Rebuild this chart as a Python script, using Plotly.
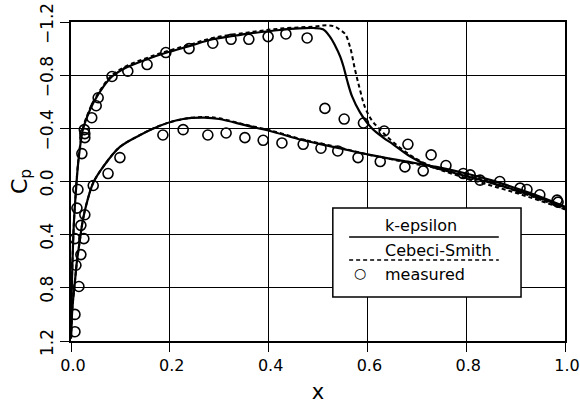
import plotly.graph_objects as go

# Surface pressure coefficient along the chord
ke_upper_x = [0.0, 0.001, 0.003, 0.006, 0.009, 0.014, 0.019, 0.024, 0.032, 0.045,
              0.065, 0.083, 0.113, 0.154, 0.194, 0.241, 0.287, 0.356, 0.423, 0.49,
              0.51, 0.524, 0.535, 0.545, 0.552, 0.559, 0.569, 0.585, 0.609, 0.632,
              0.652, 0.686, 0.72, 0.75, 0.80, 0.85, 0.90, 0.95, 1.0]
ke_upper_cp = [1.18, 0.9, 0.6, 0.3, 0.12, -0.12, -0.28, -0.39, -0.48, -0.59,
               -0.71, -0.79, -0.86, -0.92, -0.97, -1.02, -1.07, -1.11, -1.14, -1.155,
               -1.145, -1.09, -1.02, -0.94, -0.86, -0.76, -0.64, -0.52, -0.40, -0.33,
               -0.28, -0.19, -0.125, -0.09, -0.04, 0.01, 0.065, 0.125, 0.195]

ke_lower_x = [0.0, 0.002, 0.004, 0.008, 0.012, 0.018, 0.024, 0.032, 0.045, 0.065,
              0.099, 0.14, 0.18, 0.227, 0.27, 0.30, 0.356, 0.403, 0.47, 0.538,
              0.605, 0.672, 0.74, 0.80, 0.85, 0.90, 0.95, 1.0]
ke_lower_cp = [1.18, 1.0, 0.9, 0.75, 0.60, 0.44, 0.29, 0.16, 0.01, -0.11,
               -0.26, -0.35, -0.42, -0.47, -0.48, -0.47, -0.42, -0.38, -0.31, -0.255,
               -0.20, -0.155, -0.11, -0.06, -0.01, 0.05, 0.115, 0.19]

cs_upper_x = [0.0, 0.001, 0.003, 0.006, 0.009, 0.014, 0.019, 0.024, 0.032, 0.045,
              0.065, 0.083, 0.113, 0.154, 0.194, 0.241, 0.287, 0.356, 0.423, 0.49,
              0.52, 0.534, 0.545, 0.555, 0.565, 0.575, 0.585, 0.595, 0.609, 0.626,
              0.645, 0.686, 0.72, 0.75, 0.80, 0.85, 0.90, 0.95, 1.0]
cs_upper_cp = [1.18, 0.9, 0.6, 0.3, 0.12, -0.13, -0.29, -0.40, -0.49, -0.60,
               -0.72, -0.80, -0.87, -0.93, -0.98, -1.03, -1.08, -1.12, -1.15, -1.165,
               -1.175, -1.165, -1.14, -1.11, -1.01, -0.84, -0.69, -0.56, -0.46, -0.39,
               -0.32, -0.20, -0.13, -0.085, -0.025, 0.03, 0.085, 0.145, 0.21]

cs_lower_x = [0.0, 0.002, 0.004, 0.008, 0.012, 0.018, 0.024, 0.032, 0.045, 0.065,
              0.099, 0.14, 0.18, 0.227, 0.27, 0.30, 0.356, 0.403, 0.47, 0.538,
              0.605, 0.672, 0.74, 0.80, 0.85, 0.90, 0.95, 1.0]
cs_lower_cp = [1.18, 1.0, 0.9, 0.75, 0.60, 0.44, 0.29, 0.16, 0.01, -0.11,
               -0.26, -0.35, -0.42, -0.47, -0.485, -0.475, -0.425, -0.385, -0.315, -0.26,
               -0.20, -0.15, -0.10, -0.045, 0.005, 0.07, 0.135, 0.21]

meas_upper_x = [0.008, 0.008, 0.016, 0.010, 0.008, 0.012, 0.014, 0.022, 0.028, 0.028,
                0.027, 0.042, 0.051, 0.055, 0.083, 0.115, 0.154, 0.192, 0.239, 0.287,
                0.324, 0.360, 0.399, 0.435, 0.478, 0.514, 0.553, 0.592, 0.634, 0.682,
                0.729, 0.759, 0.808, 0.868, 0.923, 0.986]
meas_upper_cp = [1.13, 1.00, 0.79, 0.63, 0.43, 0.20, 0.06, -0.21, -0.33, -0.36,
                 -0.39, -0.48, -0.57, -0.63, -0.79, -0.83, -0.88, -0.97, -1.00, -1.04,
                 -1.07, -1.07, -1.09, -1.11, -1.08, -0.55, -0.47, -0.44, -0.38, -0.28,
                 -0.20, -0.12, -0.05, 0.00, 0.06, 0.155]

meas_lower_x = [0.020, 0.026, 0.020, 0.028, 0.045, 0.075, 0.099, 0.186, 0.227, 0.277,
                0.314, 0.352, 0.389, 0.427, 0.470, 0.506, 0.540, 0.581, 0.626, 0.676,
                0.713, 0.794, 0.828, 0.909, 0.949, 0.984]
meas_lower_cp = [0.55, 0.43, 0.33, 0.25, 0.03, -0.06, -0.18, -0.35, -0.39, -0.35,
                 -0.365, -0.33, -0.31, -0.29, -0.28, -0.25, -0.23, -0.18, -0.15, -0.11,
                 -0.08, -0.06, -0.01, 0.05, 0.10, 0.14]

x_ticks = [0.0, 0.2, 0.4, 0.6, 0.8, 1.0]
x_ticktext = ["0.0", "0.2", "0.4", "0.6", "0.8", "1.0"]
y_ticks = [-1.2, -0.8, -0.4, 0.0, 0.4, 0.8, 1.2]
y_ticktext = ["\u22121.2", "\u22120.8", "\u22120.4", "0.0", "0.4", "0.8", "1.2"]

FONT = "DejaVu Sans"
fig = go.Figure()

dash_style = dict(color="black", width=2, dash="4px,3px")
solid_style = dict(color="black", width=2.2)

for xs, ys in [(cs_upper_x, cs_upper_cp), (cs_lower_x, cs_lower_cp)]:
    fig.add_trace(go.Scatter(x=xs, y=ys, mode="lines", line=dash_style,
                             line_shape="spline", showlegend=False))
for xs, ys in [(ke_upper_x, ke_upper_cp), (ke_lower_x, ke_lower_cp)]:
    fig.add_trace(go.Scatter(x=xs, y=ys, mode="lines", line=solid_style,
                             line_shape="spline", showlegend=False))

fig.add_trace(go.Scatter(
    x=meas_upper_x + meas_lower_x, y=meas_upper_cp + meas_lower_cp, mode="markers",
    marker=dict(symbol="circle-open", size=10, color="black", line=dict(width=1.6)),
    showlegend=False))

# Boxed key with the sample line drawn beneath each label
bx0, bx1, by0, by1 = 0.530, 0.911, 0.138, 0.417
lx0, lx1 = 0.563, 0.866
fig.add_shape(type="rect", xref="paper", yref="paper", x0=bx0, x1=bx1, y0=by0, y1=by1,
              line=dict(color="black", width=1.5), fillcolor="white", layer="above")
fig.add_shape(type="line", xref="paper", yref="paper", x0=lx0, x1=lx1, y0=0.326, y1=0.326,
              line=dict(color="black", width=1.5), layer="above")
fig.add_shape(type="line", xref="paper", yref="paper", x0=lx0, x1=lx1, y0=0.254, y1=0.254,
              line=dict(color="black", width=1.5, dash="4px,3px"), layer="above")
key_font = dict(family=FONT, size=16, color="black")
fig.add_annotation(xref="paper", yref="paper", x=0.632, y=0.361, text="k-epsilon",
                   showarrow=False, xanchor="left", yanchor="middle", font=key_font)
fig.add_annotation(xref="paper", yref="paper", x=0.632, y=0.285, text="Cebeci-Smith",
                   showarrow=False, xanchor="left", yanchor="middle", font=key_font)
fig.add_annotation(xref="paper", yref="paper", x=0.632, y=0.210, text="measured",
                   showarrow=False, xanchor="left", yanchor="middle", font=key_font)
fig.add_annotation(xref="paper", yref="paper", x=0.585, y=0.212, text="\u25cb",
                   showarrow=False, xanchor="center", yanchor="middle",
                   font=dict(family=FONT, size=14, color="black"))

fig.update_xaxes(range=[0, 1], tickvals=x_ticks, ticktext=x_ticktext,
                 showgrid=True, gridcolor="black", gridwidth=1, zeroline=False,
                 showline=True, mirror=True, linecolor="black", linewidth=2,
                 ticks="outside", ticklen=9, tickcolor="black", tickwidth=1,
                 ticklabelshift=2, ticklabeloverflow="allow", automargin=False,
                 tickfont=dict(family=FONT, size=16, color="black"),
                 title=dict(text="x", font=dict(family=FONT, size=21, color="black"),
                            standoff=10))
fig.update_yaxes(range=[1.2, -1.2], tickvals=y_ticks, ticktext=y_ticktext,
                 showgrid=True, gridcolor="black", gridwidth=1, zeroline=False,
                 showline=True, mirror=True, linecolor="black", linewidth=2,
                 ticks="outside", ticklen=9, tickcolor="black", tickwidth=1,
                 tickangle=-90, ticklabelshift=-4, ticklabeloverflow="allow",
                 automargin=False,
                 tickfont=dict(family=FONT, size=17, color="black"),
                 title=dict(text="C<sub>p</sub>", font=dict(family=FONT, size=22, color="black"),
                            standoff=4))

fig.update_layout(width=580, height=408, margin=dict(l=71, r=15, t=22, b=67),
                  plot_bgcolor="white", paper_bgcolor="white")

fig.write_html("out.html")
